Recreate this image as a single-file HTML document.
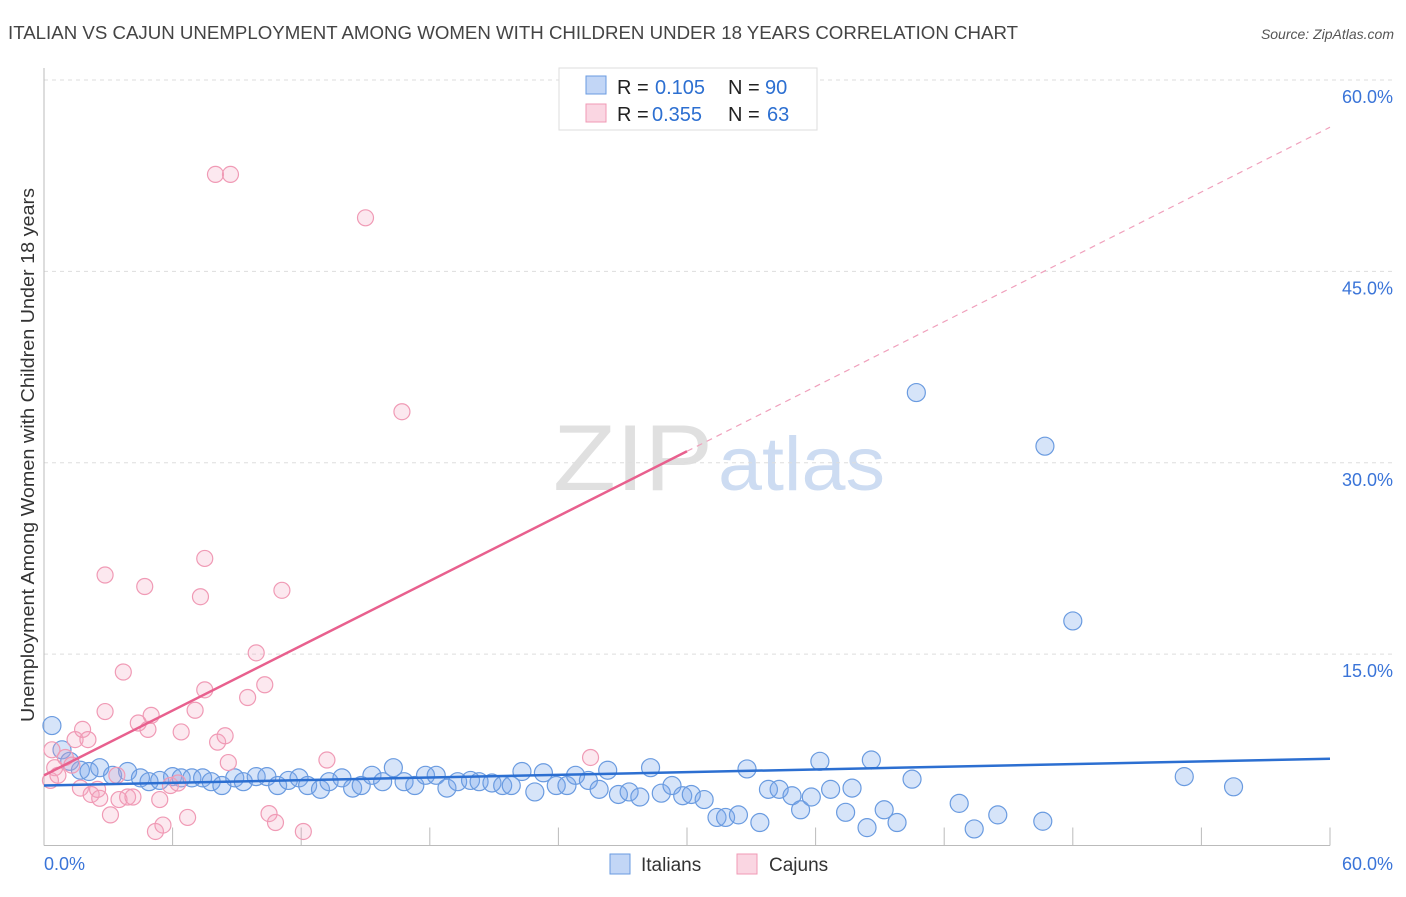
<!DOCTYPE html>
<html><head><meta charset="utf-8">
<style>
body{margin:0;background:#fff;font-family:"Liberation Sans",sans-serif;}
svg text{font-family:"Liberation Sans",sans-serif;}
</style></head>
<body>
<svg id="chart" width="1406" height="892">
<text x="8" y="39" font-size="18" fill="#444" textLength="1010" lengthAdjust="spacingAndGlyphs">ITALIAN VS CAJUN UNEMPLOYMENT AMONG WOMEN WITH CHILDREN UNDER 18 YEARS CORRELATION CHART</text>
<text x="1394" y="39" font-size="14" fill="#555" font-style="italic" text-anchor="end">Source: ZipAtlas.com</text>
<g>
<text x="553" y="490" font-size="94" fill="#e0e0e0" font-family="Liberation Serif" textLength="160" lengthAdjust="spacingAndGlyphs">ZIP</text>
<text x="718" y="490" font-size="76" fill="#cddcf2" textLength="167" lengthAdjust="spacingAndGlyphs">atlas</text>
</g>
<g id="grid"></g>
<g id="marks"></g>
<text transform="translate(34,455) rotate(-90)" font-size="18" fill="#333" text-anchor="middle" textLength="534" lengthAdjust="spacingAndGlyphs">Unemployment Among Women with Children Under 18 years</text>
<g>
<rect x="559" y="68" width="258" height="62" fill="#fff" stroke="#ddd"/>
<rect x="586" y="76" width="20" height="18" fill="rgba(120,165,235,0.45)" stroke="#6a9be0"/>
<text x="617" y="94" font-size="20" fill="#222">R =</text>
<text x="655" y="94" font-size="20" fill="#2c6fd1">0.105</text>
<text x="728" y="94" font-size="20" fill="#222">N =</text>
<text x="765" y="94" font-size="20" fill="#2c6fd1">90</text>
<rect x="586" y="104" width="20" height="18" fill="rgba(245,165,190,0.45)" stroke="#f09ab5"/>
<text x="617" y="121" font-size="20" fill="#222">R =</text>
<text x="652" y="121" font-size="20" fill="#2c6fd1">0.355</text>
<text x="728" y="121" font-size="20" fill="#222">N =</text>
<text x="767" y="121" font-size="20" fill="#2c6fd1">63</text>
</g>
<g>
<rect x="610" y="854" width="20" height="20" fill="rgba(120,165,235,0.45)" stroke="#6a9be0"/>
<text x="641" y="871" font-size="19" fill="#333">Italians</text>
<rect x="737" y="854" width="20" height="20" fill="rgba(245,165,190,0.45)" stroke="#f09ab5"/>
<text x="769" y="871" font-size="19" fill="#333">Cajuns</text>
</g>
</svg>
<script>
const yTicks=[15,30,45,60];
const yTickLabels=["15.0%","30.0%","45.0%","60.0%"];
const xTickVals=[0,6,12,18,24,30,36,42,48,54,60];
const italiansX=[0.37,0.84,1.2,1.7,2.1,2.6,3.2,3.9,4.5,4.9,5.4,6.0,6.4,6.9,7.4,7.8,8.3,8.9,9.3,9.9,10.4,10.9,11.4,11.9,12.3,12.9,13.3,13.9,14.4,14.8,15.3,15.8,16.3,16.8,17.3,17.8,18.3,18.8,19.3,19.9,20.3,20.9,21.4,21.8,22.3,22.9,23.3,23.9,24.4,24.8,25.4,25.9,26.3,26.8,27.3,27.8,28.3,28.8,29.3,29.8,30.2,30.8,31.4,31.8,32.4,32.8,33.4,33.8,34.3,34.9,35.3,35.8,36.2,36.7,37.4,37.7,38.4,38.6,39.2,39.8,40.5,40.7,42.7,43.4,44.5,46.6,46.7,48.0,53.2,55.5];
const italiansY=[9.4,7.5,6.6,5.9,5.8,6.1,5.5,5.8,5.3,5.0,5.1,5.4,5.3,5.3,5.3,5.0,4.7,5.3,5.0,5.4,5.4,4.7,5.1,5.3,4.7,4.4,5.0,5.3,4.5,4.7,5.5,5.0,6.1,5.0,4.7,5.5,5.5,4.5,5.0,5.1,5.0,4.9,4.7,4.7,5.8,4.2,5.7,4.7,4.7,5.5,5.1,4.4,5.9,4.0,4.2,3.8,6.1,4.1,4.7,3.9,4.0,3.6,2.2,2.2,2.4,6.0,1.8,4.4,4.4,3.9,2.8,3.8,6.6,4.4,2.6,4.5,1.4,6.7,2.8,1.8,5.2,35.5,3.3,1.3,2.4,1.9,31.3,17.6,5.4,4.6];
const cajunsX=[0.37,0.5,0.3,0.65,1.0,1.3,1.7,1.45,1.8,2.05,2.2,2.5,2.6,2.85,2.85,3.1,3.4,3.5,3.7,3.9,4.15,4.4,4.7,4.85,5.0,5.2,5.4,5.55,5.9,6.25,6.4,6.7,7.05,7.3,7.5,7.5,8.0,8.1,8.45,8.6,8.7,9.5,9.9,10.3,10.5,10.8,11.1,12.1,13.2,15.0,16.7,25.5];
const cajunsY=[7.5,6.1,5.1,5.5,6.9,6.3,4.5,8.3,9.1,8.3,4.0,4.4,3.7,10.5,21.2,2.4,5.5,3.6,13.6,3.8,3.8,9.6,20.3,9.1,10.2,1.1,3.6,1.6,4.7,4.9,8.9,2.2,10.6,19.5,12.2,22.5,52.6,8.1,8.6,6.5,52.6,11.6,15.1,12.6,2.5,1.8,20.0,1.1,6.7,49.2,34.0,6.9];
const italiansTrend=[4.7,6.8];
const cajunsTrend=[5.5,30.9,56.3];
const NS="http://www.w3.org/2000/svg";
const X0=44,X1=1330,Y0=845.5,Y60=80;
function xs(v){return X0+(v/60)*(X1-X0);}
function ys(v){return Y0-(v/60)*(Y0-Y60);}
function mk(tag,attrs,parent){const e=document.createElementNS(NS,tag);for(const k in attrs)e.setAttribute(k,attrs[k]);parent.appendChild(e);return e;}
const grid=document.getElementById('grid'),marks=document.getElementById('marks');
yTicks.forEach((t,i)=>{
 const l=mk('line',{x1:X0,x2:1394,y1:ys(t),y2:ys(t),stroke:'#ddd','stroke-dasharray':'4,4'},grid);
 
 
 const tx=mk('text',{x:1393,y:ys(t)+23,'font-size':18,fill:'#3a74d8','text-anchor':'end'},grid);
 tx.textContent=yTickLabels[i];
 
 
});
const ax=mk('line',{x1:X0,x2:X0,y1:68,y2:Y0,stroke:'#bbb'},grid);


const xa=mk('line',{x1:X0,x2:X1,y1:Y0,y2:Y0,stroke:'#bbb'},grid);


xTickVals.forEach(v=>{
 const t=mk('line',{x1:xs(v),x2:xs(v),y1:Y0,y2:Y0-18,stroke:'#bbb'},grid);
 
 
});
const xl0=mk('text',{x:44,y:870,'font-size':18,fill:'#3a74d8'},grid);xl0.textContent='0.0%';


const xl1=mk('text',{x:1393,y:870,'font-size':18,fill:'#3a74d8','text-anchor':'end'},grid);xl1.textContent='60.0%';


italiansX.forEach((x,i)=>{
 const c=mk('circle',{cx:xs(x),cy:ys(italiansY[i]),r:9,fill:'rgba(120,165,235,0.3)',stroke:'#6a9be0','stroke-width':1.2},marks);
 
 
});
cajunsX.forEach((x,i)=>{
 const c=mk('circle',{cx:xs(x),cy:ys(cajunsY[i]),r:8,fill:'rgba(245,165,190,0.25)',stroke:'#f09ab5','stroke-width':1.2},marks);
 
 
});
const bl=mk('line',{x1:xs(0),y1:ys(italiansTrend[0]),x2:xs(60),y2:ys(italiansTrend[1]),stroke:'#2c6fd1','stroke-width':2.5},marks);


const pl=mk('line',{x1:xs(0),y1:ys(cajunsTrend[0]),x2:xs(30),y2:ys(cajunsTrend[1]),stroke:'#e8608e','stroke-width':2.5},marks);


const pd=mk('line',{x1:xs(30),y1:ys(cajunsTrend[1]),x2:xs(60),y2:ys(cajunsTrend[2]),stroke:'#f0a0bc','stroke-width':1.2,'stroke-dasharray':'6,5'},marks);


</script>
</body></html>
